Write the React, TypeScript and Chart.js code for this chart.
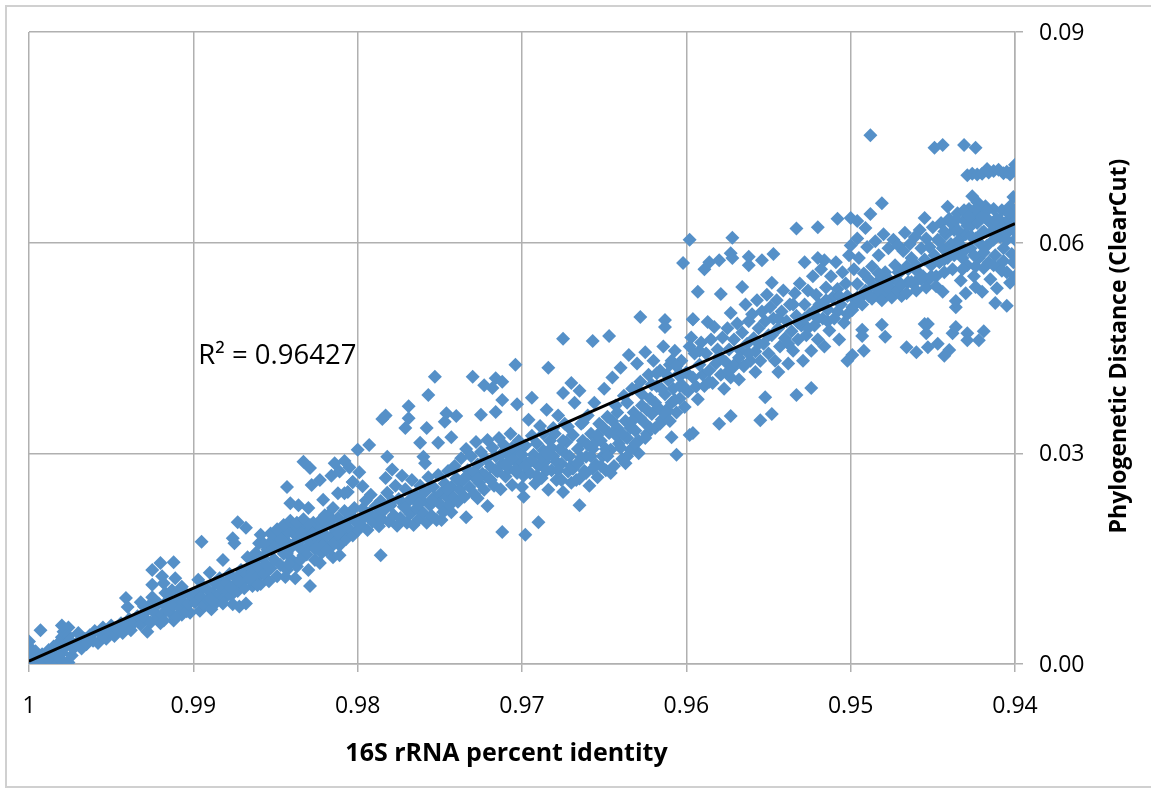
import React, { useEffect, useRef } from "react";
import { Chart, registerables } from "chart.js";

Chart.register(...registerables);

const xTickValues = [1, 0.99, 0.98, 0.97, 0.96, 0.95, 0.94];
const xAxisTitle = "16S rRNA percent identity";
const yAxisTitle = "Phylogenetic Distance (ClearCut)";
const fitLabel = "R² = 0.96427";
const trendline = [[1, 0.0004], [0.94, 0.0627]];

const band100to99 = [
[1,0],[1,.0005],[1,.001],[1,.0015],[1,.002],[1,.0025],[1,.0032],[.9998,.0003],[.9997,.0012],[.9996,.0018],[.9995,0],[.9994,.0007],[.9993,.0048],[.9992,.0014],[.9991,.0003],[.999,.001],[.9988,.002],[.9987,.0005],[.9985,.0015],[.9985,.0025],[.9983,.0001],[.9982,.003],[.9981,.0008],[.998,.0038],[.998,.0016],[.9979,.0046],[.9978,.0024],[.9977,.0001],[.9976,.0052],[.9976,.004],[.998,.0055],[.9975,.0033],[.9974,.0012],[.9973,.0022],[.9976,.0002],
[.9971,.003],[.997,.0044],[.9968,.0022],[.9966,.0036],[.9965,.0028],[.9963,.0041],[.9961,.0033],[.996,.0047],[.9958,.003],[.9956,.0042],[.9955,.0052],[.9953,.0036],[.9951,.0046],[.995,.0055],[.9948,.004],[.9946,.005],[.9944,.0058],[.9943,.0044],[.9941,.0054],[.9939,.0064],[.9938,.0048],[.9936,.0059],[.9941,.0094],[.994,.0081],[.9932,.0088],[.9925,.0095],[.9928,.0046],[.992,.0058],[.9912,.0062],[.9907,.007],[.9902,.0073],[.9925,.0113],[.9918,.0115],[.9919,.0125],[.9911,.0122],[.9907,.011],[.9925,.0134],[.992,.0144],[.9912,.0145],
[.9934,.0068],[.9932,.0056],[.993,.0072],[.9929,.0064],[.9927,.0083],[.9926,.0059],[.9924,.0074],[.9922,.0066],[.9921,.0086],[.9919,.0071],[.9918,.0062],[.9916,.0081],[.9915,.0092],[.9914,.0073],[.9912,.0084],[.991,.0068],[.9909,.0094],[.9908,.0079],[.9906,.0088],[.9905,.0101],[.9904,.0075],[.9903,.0085],[.9901,.0096],[.9917,.0101],[.9913,.0105],[.9909,.0102],[.993,.0082]
];

const band99to98 = [
[.9897,.012],[.989,.013],[.9882,.0148],[.9895,.0174],[.9876,.0179],[.9875,.0172],[.9873,.0202],[.9868,.0194],[.9867,.0152],[.9859,.0184],[.986,.0172],[.9843,.0252],[.9841,.0229],[.9836,.0226],[.983,.0222],[.9828,.0255],[.9821,.0234],[.9812,.0243],[.9806,.0245],[.9803,.0259],[.982,.0212],[.9876,.0085],[.9872,.0082],[.9868,.0086],[.9864,.0111],[.9844,.0124],[.9838,.0122],[.983,.0134],[.9829,.0111],[.9823,.0144],[.9815,.0152],[.9811,.0155],
[.9833,.0288],[.9829,.0279],[.9814,.0286],[.9808,.0289],[.9816,.0268],[.9823,.0262],[.9811,.0274],[.9805,.028],
[.9899,.0088],[.9898,.0101],[.9896,.0076],[.9895,.0095],[.9893,.0084],[.9892,.0107],[.9891,.0091],[.9889,.0078],[.9888,.0101],[.9887,.0115],[.9886,.0088],[.9885,.0098],[.9884,.0122],[.9883,.0109],[.9881,.0094],[.988,.0116],[.9879,.0103],[.9878,.0128],[.9877,.0098],[.9875,.0112],[.9874,.0122],[.9873,.0104],[.9871,.0134],[.987,.0117],[.9869,.0108],[.9868,.0127],[.9866,.0138],[.9865,.0119],[.9864,.0131],[.9863,.0146],[.9861,.0125],[.986,.0137],[.9859,.0114],[.9858,.0152],[.9857,.0128],[.9856,.0142],[.9855,.0163],[.9854,.0118],[.9853,.0136],[.9852,.0176],[.9851,.0149],[.985,.0184],[.9849,.0125],[.9848,.0168],[.9847,.0141],[.9846,.0186],[.9845,.0157],[.9844,.0176],[.9843,.0134],[.9842,.0188],[.9841,.0165],[.984,.0148],[.9839,.0195],[.9838,.0172],[.9838,.0184],[.9837,.0139],[.9836,.0192],[.9835,.0165],[.9834,.0178],[.9833,.0155],[.9832,.0197],[.9831,.0185],[.983,.0168],[.9829,.0176],[.9828,.0192],[.9827,.0201],[.9826,.0164],[.9825,.0187],[.9824,.0176],[.9823,.0197],[.9822,.0158],[.9821,.0186],[.982,.0171],[.9819,.0199],[.9818,.0212],[.9817,.0165],[.9816,.0182],[.9815,.0222],[.9814,.0192],[.9813,.0175],[.9812,.0208],[.9811,.0169],[.981,.0186],[.9809,.0199],[.9808,.0218],[.9807,.0178],[.9806,.0205],[.9805,.0192],[.9804,.0212],[.9803,.0183],[.9802,.0222],[.9801,.0202],[.98,.019]
];

const band98to97 = [
[.9753,.0409],[.9757,.0383],[.9769,.0367],[.9783,.0354],[.9785,.0349],[.9769,.035],[.9771,.0336],[.9758,.0336],[.9746,.0357],[.9747,.0345],[.974,.0353],[.973,.0409],[.9723,.0397],[.9718,.0393],[.9716,.0407],[.9712,.0402],[.9712,.0376],[.9704,.0426],[.9703,.037],[.9716,.0359],[.9725,.0355],[.9762,.0315],[.9751,.0315],[.9743,.0323],[.9793,.0312],[.98,.0305],[.9782,.0295],[.976,.0295],[.9759,.0286],[.9799,.0273],[.9803,.0259],[.9797,.0253],[.9808,.0243],[.9786,.0155],[.9712,.0188],[.9698,.0184],[.9727,.0236],[.9721,.0225],[.9734,.0209],[.9749,.0205],[.9743,.0216],[.9746,.0222],
[.9798,.0198],[.9797,.0221],[.9796,.0209],[.9795,.0233],[.9794,.0191],[.9793,.0215],[.9792,.0241],[.9791,.0203],[.9789,.0225],[.9788,.0212],[.9787,.0196],[.9786,.0232],[.9785,.0206],[.9784,.0219],[.9783,.0265],[.9782,.0244],[.9781,.0203],[.978,.0226],[.9779,.0277],[.9778,.0212],[.9777,.0254],[.9776,.0197],[.9775,.0235],[.9774,.0208],[.9773,.0268],[.9772,.0224],[.9771,.0249],[.977,.0201],[.9769,.0232],[.9768,.0214],[.9767,.0262],[.9766,.0198],[.9765,.0241],[.9764,.0222],[.9763,.0206],[.9762,.0254],[.9761,.0232],[.976,.0215],[.9759,.0245],[.9758,.0201],[.9757,.0266],[.9756,.0226],[.9755,.0211],[.9754,.0252],[.9753,.0237],[.9752,.0205],[.9751,.0269],[.975,.0228],[.9749,.0244],[.9748,.0216],[.9747,.0257],[.9746,.0238],[.9745,.0275],[.9744,.0226],[.9743,.0252],[.9742,.0238],[.9741,.0282],[.974,.0264],[.9739,.0231],[.9738,.0248],[.9737,.0293],[.9736,.0262],[.9735,.0238],[.9734,.0306],[.9733,.0276],[.9732,.0252],[.9731,.0296],[.973,.0268],[.9729,.0242],[.9728,.0316],[.9727,.0284],[.9726,.0258],[.9725,.0302],[.9724,.0271],[.9723,.0248],[.9722,.0292],[.9721,.0319],[.972,.0264],[.9719,.0281],[.9718,.0308],[.9717,.0254],[.9716,.0296],[.9715,.0274],[.9714,.0322],[.9713,.0249],[.9712,.0286],[.9711,.0312],[.971,.0267],[.9709,.0299],[.9708,.0278],[.9707,.0328],[.9706,.0255],[.9705,.0291],[.9704,.0306],[.9703,.0272],[.9702,.0318],[.9701,.0284],[.97,.0298]
];

const band97to96 = [
[.9675,.0463],[.9657,.046],[.9647,.0467],[.9628,.0494],[.9613,.049],[.9613,.048],[.9596,.0491],[.9684,.0422],[.9694,.0379],[.967,.04],[.9665,.0389],[.9675,.0386],[.9665,.0226],[.9699,.0238],[.969,.0202],[.9606,.0298],[.9629,.03],[.9636,.0296],[.9609,.0323],
[.9699,.0268],[.9698,.0311],[.9697,.0286],[.9696,.0348],[.9695,.0272],[.9694,.0325],[.9693,.0298],[.9692,.0257],[.9691,.0314],[.969,.0282],[.9689,.0339],[.9688,.0265],[.9687,.0304],[.9686,.0288],[.9685,.0362],[.9684,.0248],[.9683,.0318],[.9682,.0276],[.9681,.0296],[.968,.0328],[.9679,.0262],[.9678,.0354],[.9677,.0306],[.9676,.0285],[.9675,.0245],[.9674,.0342],[.9673,.0316],[.9672,.0274],[.9671,.0296],[.967,.0258],[.9669,.0326],[.9668,.0372],[.9667,.0284],[.9666,.0306],[.9665,.0264],[.9664,.0342],[.9663,.0318],[.9662,.0275],[.9661,.0295],[.966,.0354],[.9659,.0254],[.9658,.0328],[.9657,.0306],[.9656,.0372],[.9655,.0284],[.9654,.0266],[.9653,.0342],[.9652,.0318],[.9651,.0296],[.965,.0392],[.9649,.0276],[.9648,.0352],[.9647,.0329],[.9646,.0305],[.9645,.0408],[.9644,.0282],[.9643,.0368],[.9642,.0336],[.9641,.0314],[.964,.0422],[.9639,.0292],[.9638,.0382],[.9637,.0346],[.9636,.0322],[.9635,.044],[.9634,.0305],[.9633,.0392],[.9632,.0358],[.9631,.0332],[.963,.0428],[.9629,.0318],[.9628,.0402],[.9627,.0368],[.9626,.0345],[.9625,.0444],[.9624,.0328],[.9623,.0412],[.9622,.0378],[.9621,.0356],[.962,.0432],[.9619,.0336],[.9618,.0396],[.9617,.0365],[.9616,.0418],[.9615,.0348],[.9614,.0452],[.9613,.0384],[.9612,.0362],[.9611,.0404],[.961,.0426],[.9609,.0372],[.9608,.0392],[.9607,.0446],[.9606,.0358],[.9605,.0412],[.9604,.0378],[.9603,.0432],[.9602,.0396],[.9601,.0366],[.96,.0415],[.9598,.0452],[.9599,.0388]
];

const band96to95 = [
[.9598,.0604],[.9572,.0607],[.9602,.0571],[.9589,.0562],[.9586,.0572],[.958,.0575],[.9573,.0585],[.9572,.0578],[.9562,.058],[.9562,.0568],[.9554,.0575],[.9547,.0584],[.9533,.062],[.952,.0622],[.9508,.0634],[.95,.0635],[.9496,.0631],[.9528,.0572],[.952,.0578],[.9516,.0575],[.9593,.053],[.9579,.0527],[.9596,.0491],[.9587,.0487],[.9583,.048],[.9573,.05],[.9566,.0537],[.9548,.0543],[.9552,.038],[.9533,.0383],[.9524,.0393],[.9548,.0356],[.9555,.0347],[.9573,.0353],[.958,.0342],[.9596,.0329],[.9598,.0326],[.9593,.0377],[.9558,.0416],[.9544,.0416],[.9572,.0421],
[.9597,.0465],[.9596,.0408],[.9595,.0442],[.9594,.0395],[.9592,.0426],[.9591,.0458],[.959,.0412],[.9589,.0396],[.9588,.0442],[.9586,.0418],[.9585,.0462],[.9584,.04],[.9582,.0428],[.9581,.0448],[.9579,.0412],[.9578,.0465],[.9577,.0392],[.9576,.043],[.9575,.0478],[.9574,.0448],[.9573,.0408],[.9571,.0462],[.957,.0428],[.9569,.0485],[.9568,.0405],[.9567,.0446],[.9566,.0472],[.9565,.0424],[.9564,.0512],[.9563,.0456],[.9562,.0488],[.9561,.0432],[.956,.0498],[.9559,.0464],[.9558,.0445],[.9557,.0518],[.9556,.0478],[.9555,.0432],[.9554,.0502],[.9553,.0456],[.9552,.0488],[.9551,.0526],[.955,.0442],[.9549,.0508],[.9548,.0468],[.9547,.0492],[.9546,.0432],[.9545,.0518],[.9544,.0478],[.9543,.0452],[.9542,.0502],[.9541,.0532],[.954,.0464],[.9539,.0488],[.9538,.0428],[.9537,.0512],[.9536,.0474],[.9535,.0446],[.9534,.0528],[.9533,.0496],[.9532,.0462],[.9531,.0542],[.953,.0482],[.9529,.0432],[.9528,.0512],[.9527,.0468],[.9526,.0532],[.9525,.0498],[.9524,.0446],[.9523,.0552],[.9522,.0482],[.9521,.0526],[.952,.0462],[.9519,.0512],[.9518,.0562],[.9517,.0492],[.9516,.0452],[.9515,.0536],[.9514,.0505],[.9513,.0475],[.9512,.0552],[.9511,.0522],[.951,.0492],[.9509,.0572],[.9508,.0534],[.9507,.0462],[.9506,.0512],[.9505,.0558],[.9504,.0486],[.9503,.0542],[.9502,.0432],[.9502,.0524],[.9501,.0582],[.9499,.0504],[.9499,.044],[.95,.0596],[.9498,.0562],[.9497,.0518],[.9496,.0606]
];

const band95to94 = [
[.9488,.0753],[.9449,.0735],[.9444,.0739],[.9431,.0739],[.9424,.0735],[.94,.0711],[.9429,.0696],[.9426,.0698],[.9423,.0697],[.942,.0698],[.9416,.07],[.9413,.0702],[.941,.0704],[.9407,.0699],[.9405,.0701],[.9403,.0697],[.9401,.0704],[.9417,.0705],
[.9481,.0656],[.9488,.0641],[.9491,.0621],[.9455,.0635],[.9441,.0651],[.9426,.0666],[.9401,.0665],
[.9466,.0451],[.946,.0444],[.9453,.0451],[.9447,.0456],[.9443,.0439],[.944,.0447],[.9455,.0484],[.9453,.0484],[.9454,.0471],[.9438,.0471],[.9436,.048],[.9429,.0471],[.9429,.0461],[.9422,.0461],[.9419,.0474],[.9493,.0476],[.9493,.0467],[.9481,.0483],[.9479,.0466],[.9492,.0446],
[.9412,.0514],[.9405,.051],[.9403,.0543],[.9411,.0535],[.942,.053],[.9424,.0537],[.943,.0528],[.9436,.0508],[.9436,.0517],[.9444,.053],
[.9495,.0578],[.9494,.0522],[.9492,.0556],[.9491,.0532],[.949,.0594],[.9489,.0524],[.9487,.0566],[.9486,.0538],[.9485,.0602],[.9484,.0526],[.9483,.0582],[.9482,.0548],[.9481,.0532],[.948,.0612],[.9479,.0558],[.9478,.0528],[.9477,.0592],[.9476,.0546],[.9475,.0534],[.9474,.0604],[.9473,.0568],[.9472,.0546],[.9471,.0596],[.947,.0558],[.9469,.0524],[.9468,.0588],[.9467,.0614],[.9466,.0566],[.9465,.0544],[.9464,.0598],[.9463,.0578],[.9462,.0542],[.9461,.0608],[.946,.0568],[.9459,.0548],[.9458,.0618],[.9457,.0592],[.9456,.0552],[.9455,.0576],[.9454,.0606],[.9453,.0546],[.9452,.0594],[.9451,.0568],[.945,.0622],[.9449,.0582],[.9448,.0552],[.9447,.0604],[.9446,.0572],[.9445,.0628],[.9444,.0592],[.9443,.0558],[.9442,.0612],[.9441,.0578],[.944,.0634],[.9439,.0598],[.9438,.0562],[.9437,.0618],[.9436,.0588],[.9435,.0642],[.9434,.0604],[.9433,.0546],[.9432,.0578],[.9431,.0632],[.943,.0612],[.9429,.0568],[.9428,.0648],[.9427,.0592],[.9426,.0626],[.9425,.0552],[.9424,.0606],[.9423,.0658],[.9422,.0578],[.9421,.0638],[.942,.0614],[.9419,.0564],[.9418,.0652],[.9417,.0596],[.9416,.0632],[.9415,.0548],[.9414,.0616],[.9413,.0648],[.9412,.0582],[.9411,.0634],[.941,.0566],[.9409,.0608],[.9408,.0646],[.9407,.0592],[.9406,.0628],[.9405,.0558],[.9404,.0616],[.9403,.0652],[.9402,.0584],[.9401,.0636],[.94,.0604],[.94,.0552],[.94,.0625],[.94,.0645]
];

const denseClusterA = [
[.9862,.0158],[.9857,.0171],[.9851,.0166],[.9847,.0178],[.9843,.0158],[.9839,.0171],[.9834,.0186],[.9831,.0156],[.9828,.0178],[.9825,.0166],[.9819,.0182],[.9815,.0171],[.9812,.0186],[.9808,.0196],[.9853,.0186],[.9849,.0192],[.9845,.0198],[.9841,.0204],[.9837,.0201],[.9833,.0206],[.9829,.0198],[.9827,.0186],[.9822,.0206],[.9816,.0205],[.9842,.0142],[.9835,.0148],[.9826,.0148],[.9819,.0162],[.9894,.011],[.9889,.0092],[.9882,.0086],[.9877,.0109],[.9872,.0118],[.9866,.0122],[.9861,.0112]
];

const denseClusterB = [
[.9694,.029],[.9691,.0268],[.9688,.0295],[.9685,.0276],[.9682,.0308],[.9679,.0288],[.9676,.0262],[.9673,.0298],[.967,.0282],[.9667,.0262],[.9664,.0294],[.9661,.0272],[.9658,.0296],[.9655,.0316],[.9652,.0282],[.9649,.0306],[.9646,.0272],[.9643,.0326],[.964,.0308],[.9637,.0286],[.9634,.0336],[.9631,.0314],[.9628,.035],[.9625,.0322],[.9622,.0336],[.9619,.0372],[.9616,.0342],[.9613,.0356],[.961,.0346],[.9607,.0376],[.9604,.0396],[.9601,.0392],
[.9687,.0328],[.9684,.0298],[.9681,.0336],[.9678,.0276],[.9675,.0318],[.9672,.0338],[.9669,.0278],[.9666,.0286],[.9663,.0344],[.966,.0312],[.9657,.0278],[.9654,.0326],[.9651,.0338],[.9648,.0296],[.9645,.0346],[.9642,.0358],[.9639,.0328],[.9636,.0372],[.9633,.0346],[.963,.0392],[.9627,.0384],[.9624,.0362],[.9621,.0398],[.9618,.0414],[.9615,.0392],[.9612,.0412],[.9609,.0432],[.9606,.0424],[.9603,.0412],
[.9735,.0264],[.9729,.0274],[.9722,.0268],[.9716,.0276],[.971,.0284],[.9704,.0276],[.9698,.0282],[.9727,.0264],[.9719,.0262],[.9713,.0298],[.9706,.0308],[.97,.0252],[.9745,.0248],[.9739,.0262],[.9755,.0234],[.9763,.0228],[.9771,.0222],[.9779,.0232],[.9787,.0222],[.9795,.0214]
];

const denseClusterC = [
[.9499,.0508],[.9496,.0522],[.9493,.0512],[.949,.0528],[.9487,.052],[.9484,.0534],[.9481,.0518],[.9478,.0538],[.9475,.0522],[.9472,.0532],[.9469,.054],[.9466,.0528],[.9463,.0544],[.946,.0532],[.9457,.0548],[.9454,.0536],[.9451,.0552],[.9448,.0538],[.9496,.0541],[.9489,.0548],[.9483,.0556],[.9477,.0548],[.9471,.0558],[.9465,.0562],[.9459,.0558],
[.9592,.0446],[.9586,.0402],[.958,.0438],[.9574,.0418],[.9568,.0436],[.9562,.0442],[.9556,.0456],[.955,.0468],[.9544,.0492],[.9538,.0456],[.9532,.0486],[.9526,.0478],[.952,.0492],[.9514,.0488],[.9508,.0502],[.9502,.0498],[.9535,.0512],[.9528,.0492],[.9521,.0506],[.9515,.0518],[.9507,.0524],
[.9446,.0602],[.9443,.0616],[.944,.0588],[.9438,.0626],[.9435,.0618],[.9433,.0596],[.9431,.0646],[.9429,.0624],[.9427,.061],[.9425,.0636],[.9423,.0628],[.9421,.0598],[.9419,.0616],[.9417,.0646],[.9415,.0628],[.9413,.0604],[.9411,.0618],[.9409,.0632],[.9407,.0618],[.9405,.0604],[.9403,.0632],[.9401,.0618],[.9443,.0576],[.9437,.0582],[.9431,.0588],[.9425,.0582],[.9419,.0586],[.9413,.0568],[.9407,.0574],[.9401,.0572],[.9436,.0632],[.9428,.0638],[.942,.0636],[.9412,.0632],[.9404,.0642],[.9424,.0648],[.9418,.0636],[.9432,.0562],[.9424,.0566],[.9416,.0572],[.9408,.056]
];

const pointsData = [
  ...band100to99, ...band99to98, ...band98to97, ...band97to96, ...band96to95, ...band95to94,
  ...denseClusterA, ...denseClusterB, ...denseClusterC,
];

const textPlugin = {
  id: "chartTexts",
  afterDatasetsDraw(chart: any) {
    const { ctx, scales } = chart;
    ctx.save();
    ctx.fillStyle = "#000";
    ctx.textBaseline = "middle";
    ctx.textAlign = "left";
    ctx.font = "27.5px 'Open Sans'";
    ctx.fillText(fitLabel, scales.x.getPixelForValue(0.9897), scales.y.getPixelForValue(0.0439));
    ctx.textAlign = "center";
    ctx.font = "bold 25px 'Open Sans'";
    ctx.fillText(xAxisTitle, 506.5, 754);
    ctx.font = "bold 23px 'Open Sans'";
    ctx.translate(1119, 346);
    ctx.rotate(-Math.PI / 2);
    ctx.fillText(yAxisTitle, 0, 0);
    ctx.restore();
  },
};

export default function App() {
  const ref = useRef<HTMLCanvasElement>(null);
  useEffect(() => {
    document.body.style.margin = "0";
    document.body.style.overflow = "hidden";
    const chart = new Chart(ref.current!, {
      type: "scatter",
      data: {
        datasets: [
          {
            label: "Trendline",
            data: trendline.map(([x, y]) => ({ x, y })),
            showLine: true,
            borderColor: "#000",
            borderWidth: 3,
            pointRadius: 0,
            order: 0,
          },
          {
            label: "Distance",
            data: pointsData.map(([x, y]) => ({ x, y })),
            pointStyle: "rectRot",
            pointRadius: 7,
            pointBackgroundColor: "#5590c8",
            pointBorderWidth: 0,
            order: 1,
          },
        ],
      },
      options: {
        animation: false,
        responsive: false,
        layout: { autoPadding: false, padding: { left: 29, top: 32, right: 0, bottom: 0 } },
        plugins: { legend: { display: false }, tooltip: { enabled: false } },
        scales: {
          x: {
            type: "linear",
            reverse: true,
            min: 0.94,
            max: 1,
            afterBuildTicks: (s: any) => { s.ticks = xTickValues.map((value) => ({ value })); },
            afterFit: (s: any) => { s.height = 124; },
            ticks: {
              color: "#000",
              padding: 21,
              maxRotation: 0,
              font: { family: "'Open Sans'", size: 23 },
              callback: (v: any) => (v === 1 ? "1" : Number(v).toFixed(2)),
            },
            grid: { color: "#b0b0b0", lineWidth: 1.5, tickLength: 8 },
            border: { color: "#b0b0b0", width: 1.5 },
          },
          y: {
            type: "linear",
            position: "right",
            min: 0,
            max: 0.09,
            ticks: {
              stepSize: 0.03,
              color: "#000",
              padding: 16,
              labelOffset: 1.5,
              font: { family: "'Open Sans'", size: 23 },
              callback: (v: any) => Number(v).toFixed(2),
            },
            afterFit: (s: any) => { s.width = 136; },
            grid: { color: "#b0b0b0", lineWidth: 1.5, tickLength: 8 },
            border: { color: "#b0b0b0", width: 1.5 },
          },
        },
      },
      plugins: [textPlugin],
    } as any);
    return () => chart.destroy();
  }, []);
  return (
    <div style={{ position: "relative", width: 1151, height: 788, overflow: "hidden", background: "#fff" }}>
      <div style={{ position: "absolute", left: 5, top: 5, width: 1200, height: 783, border: "2px solid #d0d0d0", boxSizing: "border-box" }} />
      <canvas ref={ref} width={1151} height={788} style={{ position: "absolute", left: 0, top: 0 }} />
    </div>
  );
}
